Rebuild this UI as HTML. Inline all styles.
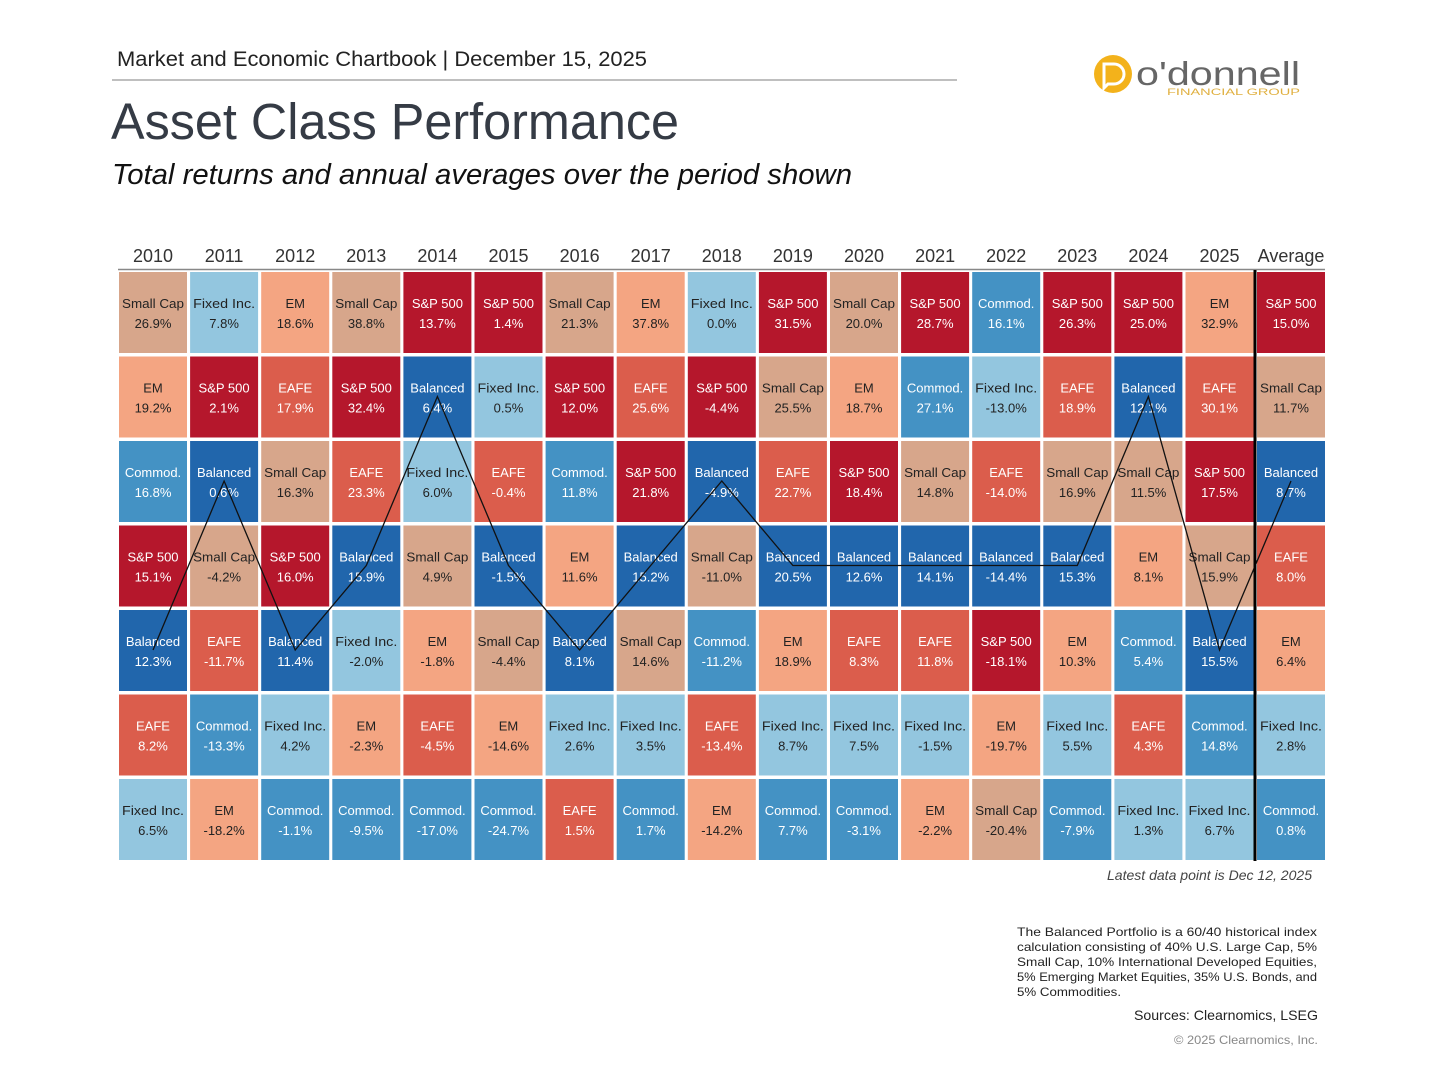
<!DOCTYPE html>
<html><head><meta charset="utf-8"><style>
html,body{margin:0;padding:0;background:#fff;}
svg{display:block;font-family:"Liberation Sans",sans-serif;}
</style></head><body>
<svg id="s" width="1430" height="1073" viewBox="0 0 1430 1073" xmlns="http://www.w3.org/2000/svg">
<rect width="1430" height="1073" fill="#fff"/>
<text x="117" y="66" font-size="21" fill="#222" textLength="530" lengthAdjust="spacingAndGlyphs">Market and Economic Chartbook | December 15, 2025</text>
<line x1="112" y1="80" x2="957" y2="80" stroke="#aaa" stroke-width="1.5"/>
<text x="111" y="139" font-size="51" fill="#353b45" textLength="568" lengthAdjust="spacingAndGlyphs">Asset Class Performance</text>
<text x="112" y="184" font-size="29" font-style="italic" fill="#111" textLength="740" lengthAdjust="spacingAndGlyphs">Total returns and annual averages over the period shown</text>
<circle cx="1113" cy="74" r="19" fill="#f3b21b"/>
<path d="M1104 64 h10 a10 10 0 0 1 0 20 h-6 l-4 4 z" fill="none" stroke="#fff" stroke-width="3"/>
<text x="1136" y="85" font-size="33" fill="#666" textLength="164" lengthAdjust="spacingAndGlyphs">o'donnell</text>
<text x="1167" y="95" font-size="9" fill="#e0b040" textLength="133" lengthAdjust="spacingAndGlyphs">FINANCIAL GROUP</text>
<g id="g"></g>
<text x="1312" y="880" font-size="14" font-style="italic" fill="#444" text-anchor="end" textLength="205" lengthAdjust="spacingAndGlyphs">Latest data point is Dec 12, 2025</text>
<g font-size="12" fill="#222">
<text x="1017" y="936" textLength="300" lengthAdjust="spacingAndGlyphs">The Balanced Portfolio is a 60/40 historical index</text>
<text x="1017" y="951" textLength="300" lengthAdjust="spacingAndGlyphs">calculation consisting of 40% U.S. Large Cap, 5%</text>
<text x="1017" y="966" textLength="300" lengthAdjust="spacingAndGlyphs">Small Cap, 10% International Developed Equities,</text>
<text x="1017" y="981" textLength="300" lengthAdjust="spacingAndGlyphs">5% Emerging Market Equities, 35% U.S. Bonds, and</text>
<text x="1017" y="996" textLength="104" lengthAdjust="spacingAndGlyphs">5% Commodities.</text>
</g>
<text x="1318" y="1020" font-size="14" fill="#222" text-anchor="end" textLength="184" lengthAdjust="spacingAndGlyphs">Sources: Clearnomics, LSEG</text>
<text x="1318" y="1044" font-size="12" fill="#888" text-anchor="end" textLength="144" lengthAdjust="spacingAndGlyphs">© 2025 Clearnomics, Inc.</text>
</svg>
<script>
var C={S:["#b5172c","#fff","S&P 500"],C:["#d7a68b","#222","Small Cap"],M:["#f4a582","#222","EM"],A:["#db5d4c","#fff","EAFE"],F:["#93c6df","#222","Fixed Inc."],O:["#4492c4","#fff","Commod."],B:["#2166ac","#fff","Balanced"]};
var R=[
"C26.9 F7.8 M18.6 C38.8 S13.7 S1.4 C21.3 M37.8 F0.0 S31.5 C20.0 S28.7 O16.1 S26.3 S25.0 M32.9 S15.0",
"M19.2 S2.1 A17.9 S32.4 B6.4 F0.5 S12.0 A25.6 S-4.4 C25.5 M18.7 O27.1 F-13.0 A18.9 B12.1 A30.1 C11.7",
"O16.8 B0.6 C16.3 A23.3 F6.0 A-0.4 O11.8 S21.8 B-4.9 A22.7 S18.4 C14.8 A-14.0 C16.9 C11.5 S17.5 B8.7",
"S15.1 C-4.2 S16.0 B15.9 C4.9 B-1.5 M11.6 B15.2 C-11.0 B20.5 B12.6 B14.1 B-14.4 B15.3 M8.1 C15.9 A8.0",
"B12.3 A-11.7 B11.4 F-2.0 M-1.8 C-4.4 B8.1 C14.6 O-11.2 M18.9 A8.3 A11.8 S-18.1 M10.3 O5.4 B15.5 M6.4",
"A8.2 O-13.3 F4.2 M-2.3 A-4.5 M-14.6 F2.6 F3.5 A-13.4 F8.7 F7.5 F-1.5 M-19.7 F5.5 A4.3 O14.8 F2.8",
"F6.5 M-18.2 O-1.1 O-9.5 O-17.0 O-24.7 A1.5 O1.7 M-14.2 O7.7 O-3.1 M-2.2 C-20.4 O-7.9 F1.3 F6.7 O0.8"];
var yrs=["2010","2011","2012","2013","2014","2015","2016","2017","2018","2019","2020","2021","2022","2023","2024","2025","Average"];
var h='',pts=[];
function X(i){return i<16?119+71.1*i:1257;}
for(var i=0;i<17;i++){h+='<text x="'+(X(i)+34)+'" y="262" font-size="18" fill="#333" text-anchor="middle">'+yrs[i]+'</text>';}
h+='<line x1="118" y1="269.5" x2="1325" y2="269.5" stroke="#888" stroke-width="1.5"/>';
for(var r=0;r<7;r++){var c=R[r].split(' ');for(var i=0;i<17;i++){var k=c[i][0],v=c[i].slice(1)+'%',t=C[k],x=X(i),y=272+84.5*r;
h+='<rect x="'+x+'" y="'+y+'" width="68" height="81" fill="'+t[0]+'"/>';
h+='<text x="'+(x+34)+'" y="'+(y+36)+'" font-size="13" fill="'+t[1]+'" text-anchor="middle"'+(t[2].length>8?' textLength="62" lengthAdjust="spacingAndGlyphs"':'')+'>'+t[2].replace('&','&amp;')+'</text>';
h+='<text x="'+(x+34)+'" y="'+(y+56)+'" font-size="13" fill="'+t[1]+'" text-anchor="middle">'+v+'</text>';
if(k=='B')pts[i]=(x+34)+','+(y+40);}}
h+='<polyline points="'+pts.join(' ')+'" fill="none" stroke="#111" stroke-width="1.3"/>';
h+='<line x1="1255" y1="270" x2="1255" y2="861" stroke="#000" stroke-width="3"/>';
document.getElementById('g').innerHTML=h;
</script>
</body></html>
